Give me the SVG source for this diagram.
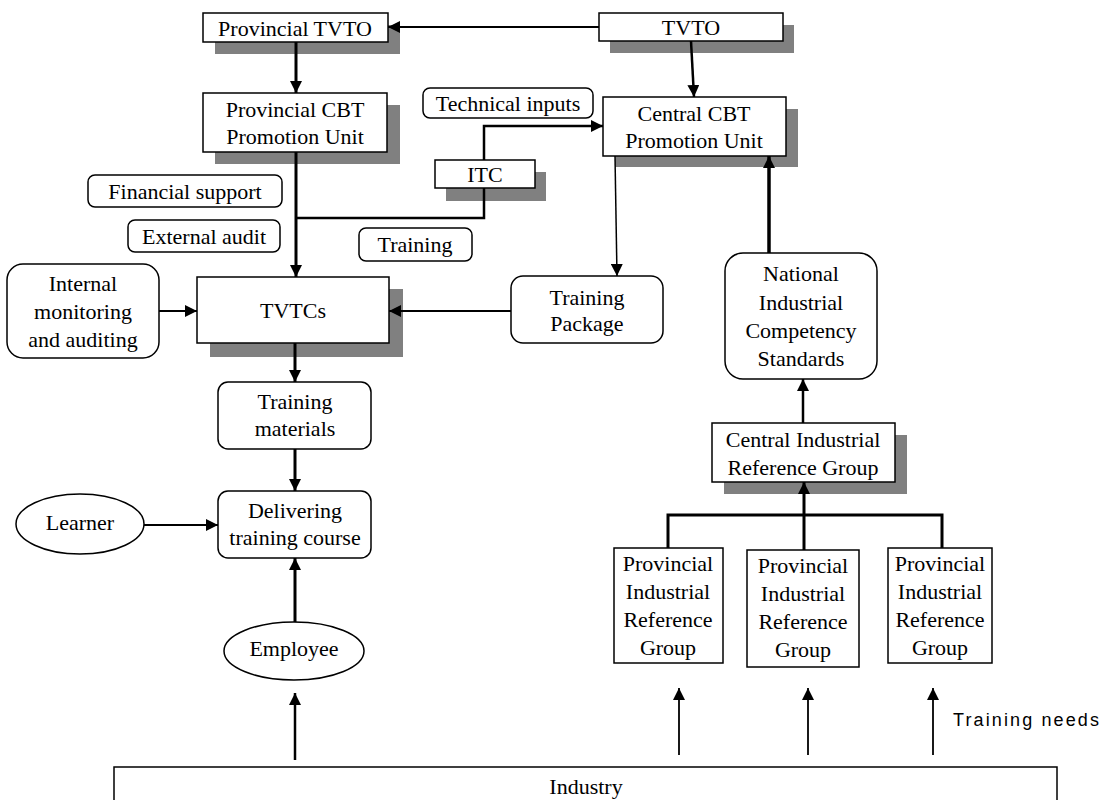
<svg xmlns="http://www.w3.org/2000/svg" width="1103" height="800" viewBox="0 0 1103 800">
  <defs>
    <marker id="head" markerUnits="userSpaceOnUse" markerWidth="12" markerHeight="12" refX="12" refY="6" orient="auto">
      <path d="M0,0 L12,6 L0,12 z" fill="#000"/>
    </marker>
    <style>
      .box { fill: #fff; stroke: #000; stroke-width: 1.5; }
      .shadow { fill: #808080; }
      .t { font-family: "Liberation Serif", "Times New Roman", serif; font-size: 22px; fill: #000; text-anchor: middle; dominant-baseline: central; }
      .sans { font-family: "Liberation Sans", Arial, sans-serif; font-size: 18px; fill: #000; dominant-baseline: central; }
      .c { fill: none; stroke: #000; }
    </style>
  </defs>
  <rect width="1103" height="800" fill="#fff"/>

  <!-- organisations -->
  <g id="provincial-tvto">
    <rect class="shadow" x="215" y="25" width="185" height="29"/>
    <rect class="box" x="203" y="13" width="185" height="29"/>
    <text class="t" x="295" y="28">Provincial TVTO</text>
  </g>
  <g id="tvto">
    <rect class="shadow" x="610" y="25" width="184" height="28"/>
    <rect class="box" x="599" y="13" width="184" height="28"/>
    <text class="t" x="691" y="27">TVTO</text>
  </g>
  <g id="provincial-cbt">
    <rect class="shadow" x="215" y="105" width="185" height="59"/>
    <rect class="box" x="203" y="93" width="184" height="59"/>
    <text class="t" x="295" y="109">Provincial CBT</text>
    <text class="t" x="295" y="136">Promotion Unit</text>
  </g>
  <g id="technical-inputs">
    <rect class="box" x="423" y="88" width="170" height="30" rx="7"/>
    <text class="t" x="508" y="103">Technical inputs</text>
  </g>
  <g id="central-cbt">
    <rect class="shadow" x="615" y="109" width="183" height="58"/>
    <rect class="box" x="603" y="97" width="183" height="59"/>
    <text class="t" x="694" y="113">Central CBT</text>
    <text class="t" x="694" y="140">Promotion Unit</text>
  </g>
  <g id="itc">
    <rect class="shadow" x="446" y="172" width="100" height="29"/>
    <rect class="box" x="435" y="160" width="100" height="28"/>
    <text class="t" x="485" y="174">ITC</text>
  </g>
  <g id="financial-support">
    <rect class="box" x="88" y="175" width="194" height="32" rx="7"/>
    <text class="t" x="185" y="191">Financial support</text>
  </g>
  <g id="external-audit">
    <rect class="box" x="128" y="220" width="152" height="32" rx="7"/>
    <text class="t" x="204" y="236">External audit</text>
  </g>
  <g id="training">
    <rect class="box" x="359" y="228" width="113" height="33" rx="7"/>
    <text class="t" x="415" y="244">Training</text>
  </g>
  <g id="internal-monitoring">
    <rect class="box" x="7" y="264" width="152" height="94" rx="16"/>
    <text class="t" x="83" y="283">Internal</text>
    <text class="t" x="83" y="311">monitoring</text>
    <text class="t" x="83" y="339">and auditing</text>
  </g>
  <g id="tvtcs">
    <rect class="shadow" x="210" y="289" width="193" height="68"/>
    <rect class="box" x="197" y="277" width="192" height="66"/>
    <text class="t" x="293" y="310">TVTCs</text>
  </g>
  <g id="training-package">
    <rect class="box" x="511" y="276" width="152" height="67" rx="12"/>
    <text class="t" x="587" y="297">Training</text>
    <text class="t" x="587" y="323">Package</text>
  </g>
  <g id="national-standards">
    <rect class="box" x="725" y="253" width="152" height="126" rx="18"/>
    <text class="t" x="801" y="273">National</text>
    <text class="t" x="801" y="302">Industrial</text>
    <text class="t" x="801" y="330">Competency</text>
    <text class="t" x="801" y="358">Standards</text>
  </g>

  <!-- delivery chain -->
  <g id="training-materials">
    <rect class="box" x="218" y="382" width="153" height="67" rx="10"/>
    <text class="t" x="295" y="401">Training</text>
    <text class="t" x="295" y="428">materials</text>
  </g>
  <g id="delivering-course">
    <rect class="box" x="218" y="491" width="153" height="67" rx="10"/>
    <text class="t" x="295" y="510">Delivering</text>
    <text class="t" x="295" y="537">training course</text>
  </g>
  <g id="learner">
    <ellipse class="box" cx="80" cy="524" rx="64" ry="30"/>
    <text class="t" x="80" y="522">Learner</text>
  </g>
  <g id="employee">
    <ellipse class="box" cx="294" cy="651" rx="70" ry="29"/>
    <text class="t" x="294" y="648">Employee</text>
  </g>

  <!-- industrial reference groups -->
  <g id="central-irg">
    <rect class="shadow" x="724" y="435" width="183" height="59"/>
    <rect class="box" x="712" y="423" width="183" height="59"/>
    <text class="t" x="803" y="439">Central Industrial</text>
    <text class="t" x="803" y="467">Reference Group</text>
  </g>
  <g id="provincial-irg-1">
    <rect class="box" x="614" y="548" width="109" height="115"/>
    <text class="t" x="668" y="563">Provincial</text>
    <text class="t" x="668" y="591">Industrial</text>
    <text class="t" x="668" y="619">Reference</text>
    <text class="t" x="668" y="647">Group</text>
  </g>
  <g id="provincial-irg-2">
    <rect class="box" x="747" y="550" width="112" height="117"/>
    <text class="t" x="803" y="565">Provincial</text>
    <text class="t" x="803" y="593">Industrial</text>
    <text class="t" x="803" y="621">Reference</text>
    <text class="t" x="803" y="649">Group</text>
  </g>
  <g id="provincial-irg-3">
    <rect class="box" x="888" y="548" width="104" height="115"/>
    <text class="t" x="940" y="563">Provincial</text>
    <text class="t" x="940" y="591">Industrial</text>
    <text class="t" x="940" y="619">Reference</text>
    <text class="t" x="940" y="647">Group</text>
  </g>

  <g id="training-needs">
    <text class="sans" x="953" y="720" textLength="146" lengthAdjust="spacing">Training needs</text>
  </g>

  <g id="industry">
    <rect class="box" x="114" y="767" width="943" height="50"/>
    <text class="t" x="586" y="786">Industry</text>
  </g>

  <!-- connectors, drawn last so arrowheads sit over the shadows -->
  <g id="connectors">
    <path class="c" stroke-width="2" d="M599,27 H388" marker-end="url(#head)"/>
    <path class="c" stroke-width="3" d="M296,42 V93" marker-end="url(#head)"/>
    <path class="c" stroke-width="2.5" d="M691,41 L694,97" marker-end="url(#head)"/>
    <path class="c" stroke-width="2.5" d="M484,160 V126 H603" marker-end="url(#head)"/>
    <path class="c" stroke-width="2.5" d="M484,188 V218 H296"/>
    <path class="c" stroke-width="3" d="M296,152 V277" marker-end="url(#head)"/>
    <path class="c" stroke-width="2" d="M159,311 H197" marker-end="url(#head)"/>
    <path class="c" stroke-width="2" d="M511,311 H389" marker-end="url(#head)"/>
    <path class="c" stroke-width="1.5" d="M615,156 L617,276" marker-end="url(#head)"/>
    <path class="c" stroke-width="3.5" d="M769,253 V156" marker-end="url(#head)"/>
    <path class="c" stroke-width="2.5" d="M803,423 V379" marker-end="url(#head)"/>
    <path class="c" stroke-width="3" d="M668,548 V515 H942 V548"/>
    <path class="c" stroke-width="3" d="M804,550 V482" marker-end="url(#head)"/>
    <path class="c" stroke-width="3" d="M295,343 V382" marker-end="url(#head)"/>
    <path class="c" stroke-width="3" d="M295,449 V491" marker-end="url(#head)"/>
    <path class="c" stroke-width="2" d="M144,525 H218" marker-end="url(#head)"/>
    <path class="c" stroke-width="3" d="M295,622 V558" marker-end="url(#head)"/>
    <path class="c" stroke-width="2.5" d="M295,760 V693" marker-end="url(#head)"/>
    <path class="c" stroke-width="1.8" d="M679,755 V688" marker-end="url(#head)"/>
    <path class="c" stroke-width="1.8" d="M808,755 V688" marker-end="url(#head)"/>
    <path class="c" stroke-width="1.8" d="M933,755 V688" marker-end="url(#head)"/>
  </g>
</svg>
